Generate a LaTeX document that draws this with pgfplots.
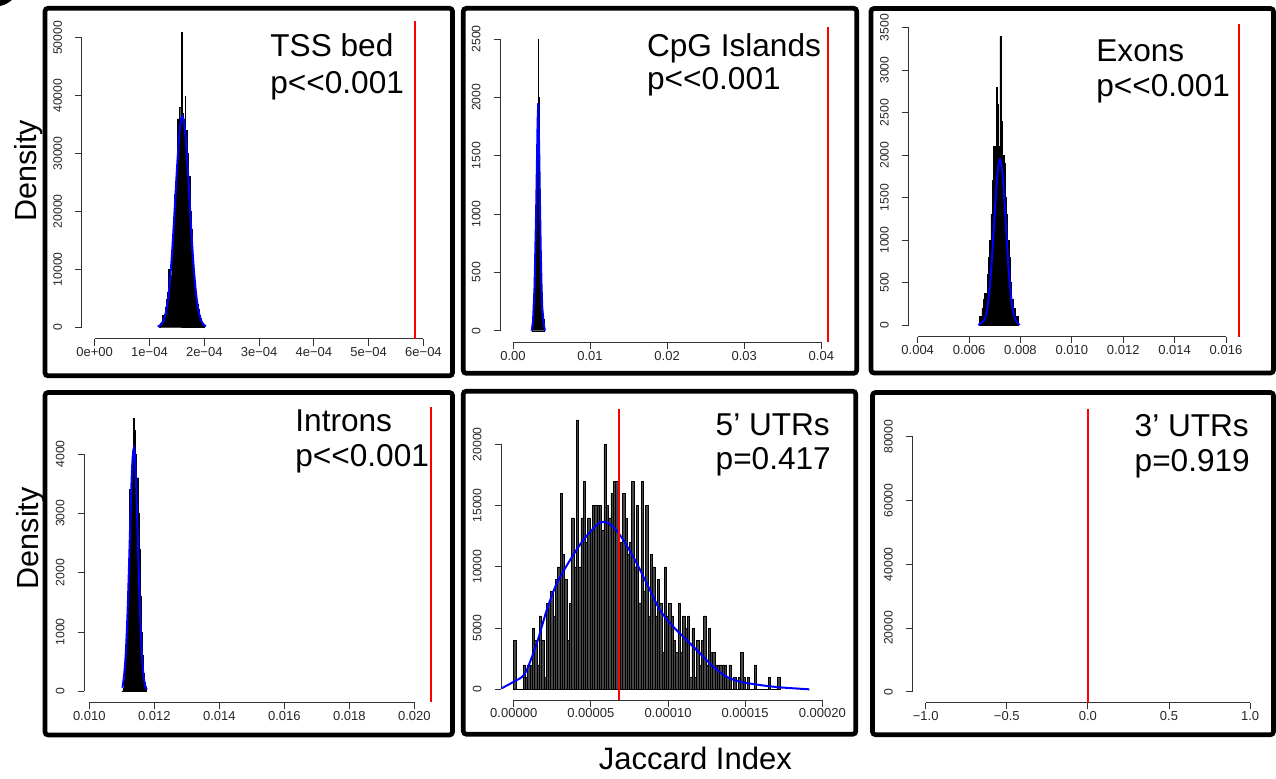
\documentclass[border=0pt]{standalone}
\usepackage{fontspec}
\setmainfont{Liberation Sans}
\usepackage{pgfplots}
\pgfplotsset{compat=1.18}
\newcommand{\lbl}{\fontsize{15.8}{18}\selectfont}
\newcommand{\pll}{p<\kern0pt<\kern0pt0.001}
\pgfplotsset{rstyle/.style={
  scale only axis, anchor=south west,
  axis x line*=bottom, axis y line*=left, axis line style={draw=none},
  tick align=outside, major tick length=3.4pt,
  tick style={black!80, line width=0.45pt},
  clip=false, scaled ticks=false,
  xticklabel style={font=\fontsize{6.5}{7}\selectfont, text=black!85, inner sep=0pt},
  yticklabel style={font=\fontsize{6.1}{7}\selectfont, text=black!85, inner sep=0pt, rotate=90, anchor=south},
  xticklabel shift=0.8pt, yticklabel shift=6.4pt,
}}
\tikzset{axl/.style={black!80, line width=0.45pt},
  blu/.style={blue, line width=1pt},
  rd/.style={red, line width=1pt}}
\begin{document}
\begin{tikzpicture}
\begin{scope}[yshift=389pt, x=0.5pt, y=-0.5pt]
\path[use as bounding box] (0,0) rectangle (1276,778);
\fill[black] (0,0) -- (12,0) to[out=215,in=10] (0,6) -- cycle;
% frames
\draw[line width=2.35pt, rounded corners=1.5pt] (45,8.3) rectangle (452.5,375.8);
\draw[line width=2.35pt, rounded corners=1.5pt] (463.3,8.3) rectangle (856.7,373.3);
\draw[line width=2.35pt, rounded corners=1.5pt] (871,8.5) rectangle (1273.5,373);
\draw[line width=2.35pt, rounded corners=1.5pt] (45,392.5) rectangle (452.5,735);
\draw[line width=2.35pt, rounded corners=1.5pt] (463.3,391.2) rectangle (855.8,734.2);
\draw[line width=2.35pt, rounded corners=1.5pt] (872.5,392.5) rectangle (1273.5,734.7);
% texts
\node[anchor=base west, inner sep=0pt] at (270,56.7) {\lbl TSS bed};
\node[anchor=base west, inner sep=0pt] at (270,93.3) {\lbl \pll};
\node[anchor=base west, inner sep=0pt] at (646.7,56.7) {\lbl CpG Islands};
\node[anchor=base west, inner sep=0pt] at (646.7,90) {\lbl \pll};
\node[anchor=base west, inner sep=0pt] at (1096,61.7) {\lbl Exons};
\node[anchor=base west, inner sep=0pt] at (1096,96.7) {\lbl \pll};
\node[anchor=base west, inner sep=0pt] at (295,431.7) {\lbl Introns};
\node[anchor=base west, inner sep=0pt] at (295,466) {\lbl \pll};
\node[anchor=base west, inner sep=0pt] at (715.3,435) {\lbl 5’ UTRs};
\node[anchor=base west, inner sep=0pt] at (715.3,470) {\lbl p=0.417};
\node[anchor=base west, inner sep=0pt] at (1134.3,436) {\lbl 3’ UTRs};
\node[anchor=base west, inner sep=0pt] at (1134.3,471.7) {\lbl p=0.919};
\node[anchor=base, rotate=90, inner sep=0pt] at (36,170.8) {\fontsize{15.25}{18}\selectfont Density};
\node[anchor=base, rotate=90, inner sep=0pt] at (38,538.3) {\fontsize{15.25}{18}\selectfont Density};
\node[anchor=base, inner sep=0pt] at (695.3,769.3) {\fontsize{15.5}{18}\selectfont Jaccard Index};
% axis anchors
\coordinate (A1) at (81.9,338.8);
\coordinate (A2) at (500.4,342.4);
\coordinate (A3) at (908.7,336.6);
\coordinate (A4) at (84.4,702.2);
\coordinate (A5) at (501.4,700.1);
\coordinate (A6) at (912.7,702.6);
\end{scope}

% ---------- Panel 1: TSS bed
\begin{axis}[rstyle, at={(A1)}, width=172.8pt, height=159.1pt,
  xmin=-2.336e-5, xmax=6.0736e-4, ymin=-2040, ymax=53000,
  xtick={0,1e-4,2e-4,3e-4,4e-4,5e-4,6e-4},
  xticklabels={0e+00,1e−04,2e−04,3e−04,4e−04,5e−04,6e−04},
  ytick={0,10000,20000,30000,40000,50000},
  yticklabels={0,10000,20000,30000,40000,50000}]
\draw[axl] (axis cs:0,-2040) -- (axis cs:6e-4,-2040);
\draw[axl] (axis cs:-2.336e-5,0) -- (axis cs:-2.336e-5,50000);
\addplot[const plot mark left, fill=black, draw=black, line width=0.2pt] table {
x y
1.17e-4 0
1.19e-4 600
1.21e-4 900
1.23e-4 2000
1.25e-4 1200
1.27e-4 2200
1.29e-4 3500
1.31e-4 4800
1.33e-4 6000
1.35e-4 10000
1.37e-4 7500
1.39e-4 9000
1.41e-4 13000
1.43e-4 16500
1.45e-4 23000
1.47e-4 24000
1.49e-4 28000
1.51e-4 36000
1.53e-4 35000
1.55e-4 38000
1.57e-4 36000
1.58e-4 51000
1.59e-4 45000
1.60e-4 37000
1.61e-4 36000
1.63e-4 35000
1.65e-4 40000
1.66e-4 34000
1.68e-4 30000
1.70e-4 26000
1.72e-4 26000
1.74e-4 20000
1.76e-4 17000
1.78e-4 12000
1.80e-4 8000
1.82e-4 8000
1.84e-4 5000
1.86e-4 4000
1.88e-4 3000
1.90e-4 2000
1.92e-4 1500
1.94e-4 900
1.96e-4 500
1.98e-4 200
2.00e-4 0
} \closedcycle;
\addplot[blu, smooth] table {
x y
1.15e-4 90
1.20e-4 320
1.25e-4 975
1.30e-4 2540
1.35e-4 5750
1.40e-4 11180
1.45e-4 18760
1.50e-4 27150
1.55e-4 33900
1.60e-4 36500
1.65e-4 33900
1.70e-4 27150
1.75e-4 18760
1.80e-4 11180
1.85e-4 5750
1.90e-4 2540
1.95e-4 975
2.00e-4 320
2.03e-4 120
};
\addplot[rd] coordinates {(5.84e-4,-2040) (5.84e-4,53000)};
\end{axis}

% ---------- Panel 2: CpG Islands
\begin{axis}[rstyle, at={(A2)}, width=170.1pt, height=157.55pt,
  xmin=-0.00163, xmax=0.0425, ymin=-100, ymax=2600,
  xtick={0,0.01,0.02,0.03,0.04},
  xticklabels={0.00,0.01,0.02,0.03,0.04},
  ytick={0,500,1000,1500,2000,2500},
  yticklabels={0,500,1000,1500,2000,2500}]
\draw[axl] (axis cs:0,-100) -- (axis cs:0.04,-100);
\draw[axl] (axis cs:-0.00163,0) -- (axis cs:-0.00163,2500);
\addplot[const plot mark left, fill=black, draw=black, line width=0.2pt] table {
x y
0.00245 0
0.00250 100
0.00260 100
0.00270 100
0.00280 250
0.00290 650
0.00300 1000
0.00310 1450
0.00320 1900
0.00325 2400
0.00328 2500
0.00331 2000
0.00335 1500
0.00345 900
0.00355 500
0.00365 200
0.00375 100
0.00385 100
0.00400 100
0.00410 0
} \closedcycle;
\addplot[blu] table {
x y
0.00243 0
0.0026 80
0.0028 380
0.0030 1000
0.0031 1400
0.0032 1800
0.00328 1950
0.0034 1550
0.0035 1100
0.0036 700
0.0037 400
0.0038 200
0.0040 50
0.00415 0
};
\addplot[rd] coordinates {(0.04087,-100) (0.04087,2600)};
\end{axis}

% ---------- Panel 3: Exons
\begin{axis}[rstyle, at={(A3)}, width=171.75pt, height=156.15pt,
  xmin=0.00365, xmax=0.01702, ymin=-136, ymax=3540,
  xtick={0.004,0.006,0.008,0.010,0.012,0.014,0.016},
  xticklabels={0.004,0.006,0.008,0.010,0.012,0.014,0.016},
  ytick={0,500,1000,1500,2000,2500,3000,3500},
  yticklabels={0,500,1000,1500,2000,2500,3000,3500}]
\draw[axl] (axis cs:0.004,-136) -- (axis cs:0.016,-136);
\draw[axl] (axis cs:0.00365,0) -- (axis cs:0.00365,3500);
\addplot[const plot mark left, fill=black, draw=black, line width=0.2pt] table {
x y
0.00640 100
0.00645 100
0.00650 200
0.00655 300
0.00660 370
0.00665 300
0.00670 600
0.00675 800
0.00680 1000
0.00685 1300
0.00690 1700
0.00695 2100
0.00700 2100
0.00705 2800
0.00710 2600
0.00715 2100
0.00720 3400
0.00724 2400
0.00730 2000
0.00735 1900
0.00740 1500
0.00745 1300
0.00750 1000
0.00755 800
0.00760 500
0.00765 300
0.00770 200
0.00775 200
0.00780 100
0.00790 0
} \closedcycle;
\addplot[blu, smooth] table {
x y
0.00636 0
0.0066 65
0.0067 183
0.0068 431
0.0069 833
0.0070 1336
0.0071 1775
0.0072 1950
0.0073 1775
0.0074 1336
0.0075 833
0.0076 431
0.0077 183
0.0078 65
0.00796 0
};
\addplot[rd] coordinates {(0.01652,-136) (0.01652,3540)};
\end{axis}

% ---------- Panel 4: Introns
\begin{axis}[rstyle, at={(A4)}, width=179.75pt, height=147.45pt,
  xmin=0.00985, xmax=0.02091, ymin=-184, ymax=4787,
  xtick={0.010,0.012,0.014,0.016,0.018,0.020},
  xticklabels={0.010,0.012,0.014,0.016,0.018,0.020},
  ytick={0,1000,2000,3000,4000},
  yticklabels={0,1000,2000,3000,4000}]
\draw[axl] (axis cs:0.010,-184) -- (axis cs:0.020,-184);
\draw[axl] (axis cs:0.00985,0) -- (axis cs:0.00985,4000);
\addplot[const plot mark left, fill=black, draw=black, line width=0.2pt] table {
x y
0.01100 0
0.01103 50
0.01106 200
0.01109 200
0.01112 600
0.01115 1000
0.01118 1400
0.01121 2200
0.01124 3400
0.01127 3400
0.01130 3800
0.01133 4000
0.01136 4600
0.01139 4400
0.01142 4000
0.01145 3600
0.01148 3600
0.01151 3000
0.01154 2400
0.01157 1600
0.01160 1000
0.01163 600
0.01166 300
0.01169 150
0.01172 50
0.01175 0
} \closedcycle;
\addplot[blu, smooth] table {
x y
0.01102 60
0.01107 263
0.01112 609
0.01117 1210
0.01122 2064
0.01127 3020
0.01132 3800
0.01137 4100
0.01142 3800
0.01147 3020
0.01152 2064
0.01157 1210
0.01162 609
0.01167 263
0.01172 97
0.01177 30
};
\addplot[rd] coordinates {(0.0205,-184) (0.0205,4787)};
\end{axis}

% ---------- Panel 5: 5' UTRs
\begin{axis}[rstyle, at={(A5)}, width=164.3pt, height=145.4pt,
  xmin=-0.8e-5, xmax=2.05e-4, ymin=-880, ymax=22857,
  xtick={0,5e-5,1e-4,1.5e-4,2e-4},
  xticklabels={0.00000,0.00005,0.00010,0.00015,0.00020},
  ytick={0,5000,10000,15000,20000},
  yticklabels={0,5000,10000,15000,20000}]
\draw[axl] (axis cs:0,-880) -- (axis cs:2e-4,-880);
\draw[axl] (axis cs:-0.8e-5,0) -- (axis cs:-0.8e-5,20000);
\addplot[ybar interval, fill=black!72, draw=black, line width=0.3pt] table {
x y
0 4000
1.5e-6 0
3e-6 0
4.5e-6 0
6e-6 2000
7.5e-6 1000
9e-6 2000
10.5e-6 2000
12e-6 5000
13.5e-6 4000
15e-6 2000
16.5e-6 6000
18e-6 4000
19.5e-6 1000
21e-6 7000
22.5e-6 7000
24e-6 8000
25.5e-6 6000
27e-6 9000
28.5e-6 10000
30e-6 16000
31.5e-6 11000
33e-6 9000
34.5e-6 4000
36e-6 7000
37.5e-6 14000
39e-6 10000
40.5e-6 22000
42e-6 10000
43.5e-6 14000
45e-6 17000
46.5e-6 12000
48e-6 14000
49.5e-6 13000
51e-6 15000
52.5e-6 15000
54e-6 15000
55.5e-6 15000
57e-6 13000
58.5e-6 20000
60e-6 15000
61.5e-6 14000
63e-6 16000
64.5e-6 17000
66e-6 17000
67.5e-6 11000
69e-6 12000
70.5e-6 16000
72e-6 14000
73.5e-6 11000
75e-6 12000
76.5e-6 17000
78e-6 10000
79.5e-6 15000
81e-6 7000
82.5e-6 17000
84e-6 8000
85.5e-6 15000
87e-6 6000
88.5e-6 11000
90e-6 10000
91.5e-6 6000
93e-6 9000
94.5e-6 7000
96e-6 3000
97.5e-6 10000
99e-6 6000
100.5e-6 7000
102e-6 6000
103.5e-6 4000
105e-6 3000
106.5e-6 7000
108e-6 3000
109.5e-6 6000
111e-6 5000
112.5e-6 6000
114e-6 1000
115.5e-6 5000
117e-6 1000
118.5e-6 4000
120e-6 2000
121.5e-6 4000
123e-6 6000
124.5e-6 2000
126e-6 5000
127.5e-6 3000
129e-6 3000
130.5e-6 2000
132e-6 2000
133.5e-6 2000
135e-6 2000
136.5e-6 2000
138e-6 1000
139.5e-6 2000
141e-6 0
142.5e-6 1000
144e-6 0
145.5e-6 1000
147e-6 3000
148.5e-6 1000
150e-6 0
151.5e-6 1000
153e-6 0
154.5e-6 0
156e-6 2000
157.5e-6 0
159e-6 0
160.5e-6 0
162e-6 0
163.5e-6 0
165e-6 1000
166.5e-6 0
168e-6 0
169.5e-6 0
171e-6 1000
172.5e-6 1000
};
\addplot[blu, smooth] table {
x y
-0.8e-5 80
0.0 620
0.73e-5 1300
1.49e-5 3750
2.14e-5 6470
2.79e-5 8650
3.65e-5 10550
4.51e-5 12190
5.38e-5 13410
5.85e-5 13680
6.45e-5 13270
7.10e-5 12190
7.97e-5 10290
8.83e-5 8100
9.48e-5 6470
1.034e-4 5110
1.121e-4 4020
1.207e-4 2940
1.294e-4 1840
1.38e-4 1030
1.467e-4 620
1.596e-4 350
1.726e-4 160
1.916e-4 0
};
\addplot[rd] coordinates {(6.82e-5,-880) (6.82e-5,22857)};
\end{axis}

% ---------- Panel 6: 3' UTRs
\begin{axis}[rstyle, at={(A6)}, width=175.2pt, height=146.65pt,
  xmin=-1.08, xmax=1.08, ymin=-3408, ymax=88600,
  xtick={-1,-0.5,0,0.5,1},
  xticklabels={−1.0,−0.5,0.0,0.5,1.0},
  ytick={0,20000,40000,60000,80000},
  yticklabels={0,20000,40000,60000,80000}]
\draw[axl] (axis cs:-1,-3408) -- (axis cs:1,-3408);
\draw[axl] (axis cs:-1.08,0) -- (axis cs:-1.08,80000);
\addplot[rd] coordinates {(0,-3408) (0,88600)};
\end{axis}
\end{tikzpicture}
\end{document}
